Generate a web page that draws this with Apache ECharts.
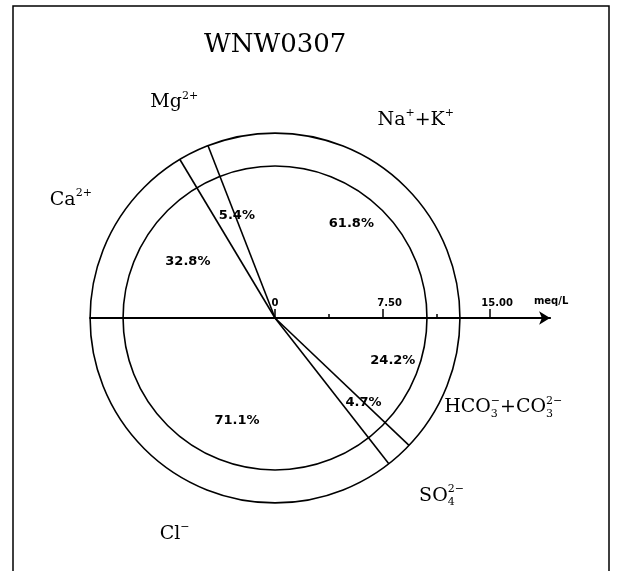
<!DOCTYPE html>
<html><head><meta charset="utf-8">
<script src="https://cdn.jsdelivr.net/npm/echarts@6/dist/echarts.min.js"></script>
<style>html,body{margin:0;padding:0;background:#fff}#c{width:617px;height:571px}</style>
</head><body><div id="c"></div>
<script>
// ---- data ----
const chartTitle = 'WNW0307';
const cationLabels = ['Ca{sup|2+}', 'Mg{sup|2+}', 'Na{sup|+}+K{sup|+}'];
const cationPercents = [32.8, 5.4, 61.8];
const anionLabels = ['HCO{sub|3}{sup|−}+CO{sub|3}{sup|2−}', 'SO{sub|4}{sup|2−}', 'Cl{sup|−}'];
const anionPercents = [24.2, 4.7, 71.1];
const circleTotals = [10.6, 12.9];          // meq/L: inner circle, outer circle
const axisMajorTicks = [0, 7.5, 15];
const axisMinorTicks = [3.75, 11.25];
const axisUnit = 'meq/L';

// ---- build ----
const innerR = Math.min(...circleTotals), outerR = Math.max(...circleTotals);
function segments(percents, startDeg, dir) {
  let c = 0; const out = [];
  percents.forEach(p => { const a0 = startDeg + dir * 1.8 * c; c += p; const a1 = startDeg + dir * 1.8 * c; out.push([a0, a1]); });
  return out;
}
const catSeg = segments(cationPercents, 180, -1);
const aniSeg = segments(anionPercents, 0, -1);
const boundaries = [...catSeg.slice(0, -1).map(s => [s[1]]), ...aniSeg.slice(0, -1).map(s => [s[1]])];
const pctData = [...catSeg.map((s, i) => [(s[0] + s[1]) / 2, cationPercents[i].toFixed(1) + '%']),
                 ...aniSeg.map((s, i) => [(s[0] + s[1]) / 2, anionPercents[i].toFixed(1) + '%'])];
const ionData = [...catSeg.map((s, i) => [(s[0] + s[1]) / 2, cationLabels[i]]),
                 ...aniSeg.map((s, i) => [(s[0] + s[1]) / 2, anionLabels[i]])];
const D = Math.PI / 180;
const polar = (r, deg) => [r * Math.cos(deg * D), r * Math.sin(deg * D)];

const serif = 'DejaVu Serif';
const labelFont = { color: '#000', fontSize: 10, fontWeight: 'bold', fontFamily: 'DejaVu Sans' };
const chart = echarts.init(document.getElementById('c'));
chart.setOption({
  animation: false,
  backgroundColor: '#fff',
  title: { text: chartTitle, left: 199, top: 27, textStyle: { fontFamily: serif, fontSize: 26, fontWeight: 'normal', color: '#000' } },
  graphic: [{ type: 'rect', shape: { x: 13, y: 6, width: 596, height: 620 }, style: { fill: 'none', stroke: '#000', lineWidth: 1.5 }, silent: true }],
  grid: { left: 90.1, right: 66.9, top: 131.7, bottom: 253 },
  xAxis: [{
    type: 'value', min: -outerR, max: 19.19, position: 'bottom',
    axisLine: { show: true, onZero: false, symbol: ['none', 'arrow'], symbolSize: [10, 11], lineStyle: { color: '#000', width: 2 } },
    axisTick: { show: true, inside: true, length: 9, customValues: axisMajorTicks, lineStyle: { color: '#000', width: 1.5 } },
    axisLabel: Object.assign({ show: true, inside: true, customValues: axisMajorTicks, margin: 10,
      formatter: v => v === 0 ? '0' : '{s|' + v.toFixed(2) + '}',
      rich: { s: Object.assign({ padding: [0, 0, 0, 14] }, labelFont) } }, labelFont),
    splitLine: { show: false },
    name: axisUnit, nameLocation: 'end', nameGap: 0,
    nameTextStyle: Object.assign({ align: 'center', verticalAlign: 'bottom', padding: [0, 0, 12, 2] }, labelFont)
  }, {
    type: 'value', min: -outerR, max: 19.19, position: 'bottom',
    axisLine: { show: false, onZero: false },
    axisTick: { show: true, inside: true, length: 4, customValues: axisMinorTicks, lineStyle: { color: '#000', width: 1.5 } },
    axisLabel: { show: false }, splitLine: { show: false }
  }],
  yAxis: { type: 'value', min: 0, max: 13, show: false },
  series: [
    { type: 'custom', clip: false, data: circleTotals.map(v => [v]),
      renderItem: (p, api) => {
        const c = api.coord([0, 0]); const r = api.size([api.value(0), 0])[0];
        return { type: 'circle', shape: { cx: c[0], cy: c[1], r }, style: { fill: 'none', stroke: '#000', lineWidth: 1.6 } };
      } },
    { type: 'custom', clip: false, data: boundaries,
      renderItem: (p, api) => {
        const c = api.coord([0, 0]); const e = api.coord(polar(outerR, api.value(0)));
        return { type: 'line', shape: { x1: c[0], y1: c[1], x2: e[0], y2: e[1] }, style: { stroke: '#000', lineWidth: 1.6 } };
      } },
    { type: 'custom', clip: false, data: pctData,
      renderItem: (p, api) => {
        const pt = api.coord(polar(innerR * 0.75, api.value(0)));
        return { type: 'text', x: pt[0] + 12, y: pt[1], style: { text: pctData[p.dataIndex][1], fill: '#000', align: 'center', verticalAlign: 'middle',
          font: 'bold 13px "DejaVu Sans"' } };
      } },
    { type: 'custom', clip: false, data: ionData,
      renderItem: (p, api) => {
        const pt = api.coord(polar(outerR * 1.3, api.value(0)));
        return { type: 'text', x: pt[0] + 5, y: pt[1], style: { text: ionData[p.dataIndex][1], fill: '#000', align: 'center', verticalAlign: 'middle',
          fontFamily: serif, fontSize: 19, lineHeight: 24,
          rich: {
            sup: { fontFamily: serif, fontSize: 11, lineHeight: 14, verticalAlign: 'top', fill: '#000' },
            sub: { fontFamily: serif, fontSize: 11, lineHeight: 10, verticalAlign: 'bottom', fill: '#000', padding: [0, -7, 0, 0] }
          } } };
      } }
  ]
});
</script></body></html>
